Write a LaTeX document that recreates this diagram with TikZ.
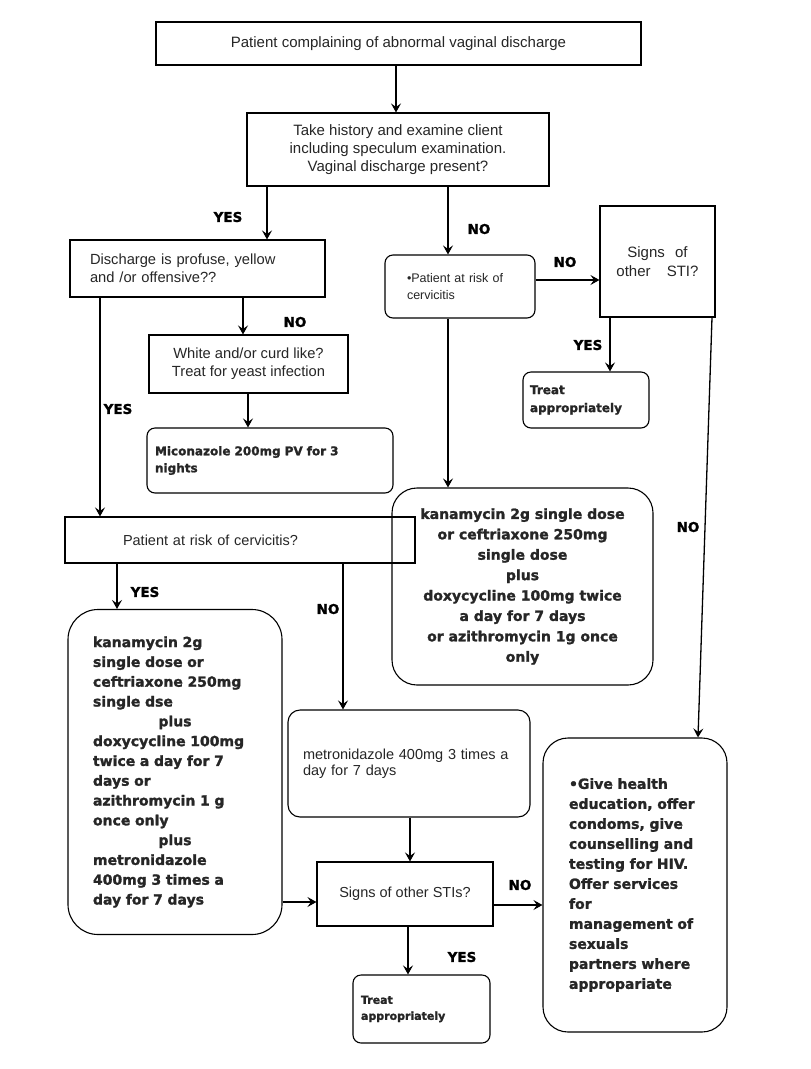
\documentclass[tikz,border=0pt]{standalone}
\usepackage{fontspec}
\setmainfont{Liberation Sans}
\newfontfamily\heavyfam{DejaVu Sans}[BoldFont={DejaVu Sans Bold}, BoldFeatures={FakeBold=1.5}]
\usetikzlibrary{arrows.meta}
\newcommand\nf[2]{\fontsize{#1}{#2}\selectfont}
\newcommand\hv[2]{\heavyfam\bfseries\fontsize{#1}{#2}\selectfont}
\begin{document}
\begin{tikzpicture}[x=1pt,y=-1pt,
  box/.style={draw, line width=1.1pt, inner sep=0pt, text=black!85},
  rbox/.style={box, rounded corners=#1},
  arr/.style={-{Stealth[length=9pt,width=10pt,inset=3.5pt]}, line width=1.3pt},
  lab/.style={font=\hv{13.5}{16}, inner sep=0pt}]
\useasboundingbox (0,0) rectangle (811,1069);
\fill[white] (0,0) rectangle (811,1069);

% column / row coordinates
\coordinate (x396) at (396,0);
\coordinate (x267) at (267,0);
\coordinate (x448) at (448,0);
\coordinate (x243) at (243,0);
\coordinate (x248) at (248,0);
\coordinate (x100) at (100,0);
\coordinate (x117) at (117,0);
\coordinate (x343) at (343,0);
\coordinate (x410) at (410,0);
\coordinate (x408) at (408,0);
\coordinate (x610) at (610,0);
\coordinate (x712) at (712,0);
\coordinate (x698) at (698,0);
\coordinate (y280) at (0,280);
\coordinate (y902) at (0,902);
\coordinate (y905) at (0,905);

% boxes
\node[box, minimum width=485pt, minimum height=43pt, font=\nf{15}{18}] (b1) at (398.5,43.5)
  {Patient complaining of abnormal vaginal discharge};
\node[box, minimum width=302pt, minimum height=73pt, align=center, font=\nf{15}{18}] (b2) at (398,149.5)
  {Take history and examine client\\including speculum examination.\\Vaginal discharge present?};
\node[box, minimum width=255pt, minimum height=57pt, text width=215pt, align=left, font=\nf{14.7}{18}] (b3) at (197.5,268.5)
  {Discharge is profuse, yellow\\and /or offensive??};
\node[box, minimum width=199pt, minimum height=58pt, align=center, font=\nf{14.7}{18}] (b4) at (248.5,364)
  {White and/or curd like?\\Treat for yeast infection};
\node[rbox=8pt, minimum width=246pt, minimum height=65pt, text width=230pt, align=left, font=\hv{12}{17}] (b5) at (270,460.5)
  {Miconazole 200mg PV for 3\\nights};
\node[box, minimum width=350pt, minimum height=46pt, text width=234pt, align=left, font=\nf{14.5}{18}] (b6) at (240,540)
  {Patient at risk of cervicitis?};
\node[rbox=30pt, minimum width=214pt, minimum height=325pt, text width=164pt, align=left, font=\hv{14}{19.8}] (b7) at (175,772)
  {\mbox{kanamycin 2g}\\\mbox{single dose or}\\\mbox{ceftriaxone 250mg}\\\mbox{single dse}\\\makebox[164pt]{plus}\\\mbox{doxycycline 100mg}\\\mbox{twice a day for 7}\\\mbox{days or}\\\mbox{azithromycin 1 g}\\\mbox{once only}\\\makebox[164pt]{plus}\\\mbox{metronidazole}\\\mbox{400mg 3 times a}\\\mbox{day for 7 days}};
\node[rbox=12pt, minimum width=242pt, minimum height=107pt, text width=212pt, align=left, font=\nf{14.5}{16}] (b8) at (409,763.5)
  {\mbox{metronidazole 400mg 3 times a}\\day for 7 days};
\node[box, minimum width=176pt, minimum height=64pt, font=\nf{14.5}{18}] (b9) at (405,894)
  {Signs of other STIs?};
\node[rbox=8pt, minimum width=137pt, minimum height=68pt, text width=121pt, align=left, font=\hv{11}{16}] (b10) at (421.5,1009)
  {Treat\\appropriately};
\node[rbox=25pt, minimum width=184pt, minimum height=294pt, text width=132pt, align=left, font=\hv{14}{20}] (b11) at (635,885)
  {\mbox{\textbullet Give health}\\\mbox{education, offer}\\\mbox{condoms, give}\\\mbox{counselling and}\\\mbox{testing for HIV.}\\\mbox{Offer services}\\for\\\mbox{management of}\\sexuals\\\mbox{partners where}\\appropariate};
\node[rbox=8pt, minimum width=150pt, minimum height=63pt, text width=106pt, align=left, font=\nf{12.5}{17}] (b12) at (460,286.5)
  {\mbox{\textbullet Patient at risk of}\\cervicitis};
\node[box, minimum width=115pt, minimum height=111pt, align=center, font=\nf{15}{19}] (b13) at (657.5,261.5)
  {Signs\hspace{6pt} of\\other\hspace{12pt} STI?};
\node[rbox=8pt, minimum width=126pt, minimum height=56pt, text width=112pt, align=left, font=\hv{12}{18}] (b14) at (586,400)
  {Treat\\appropriately};
\node[rbox=25pt, minimum width=261pt, minimum height=197pt, align=center, font=\hv{14}{20.4}] (b15) at (522.5,586.5)
  {kanamycin 2g single dose\\or ceftriaxone 250mg\\single dose\\plus\\doxycycline 100mg twice\\a day for 7 days\\or azithromycin 1g once\\only};

% connectors
\draw[arr] (b1.south -| x396) -- (b2.north -| x396);
\draw[arr] (b2.south -| x267) -- (b3.north -| x267);
\draw[arr] (b2.south -| x448) -- (b12.north -| x448);
\draw[arr] (b3.south -| x243) -- (b4.north -| x243);
\draw[arr] (b4.south -| x248) -- (b5.north -| x248);
\draw[arr] (b3.south -| x100) -- (b6.north -| x100);
\draw[arr] (b6.south -| x117) -- (b7.north -| x117);
\draw[arr] (b6.south -| x343) -- (b8.north -| x343);
\draw[arr] (b8.south -| x410) -- (b9.north -| x410);
\draw[arr] (b7.east |- y902) -- (b9.west |- y902);
\draw[arr] (b9.south -| x408) -- (b10.north -| x408);
\draw[arr] (b9.east |- y905) -- (b11.west |- y905);
\draw[arr] (b12.east |- y280) -- (b13.west |- y280);
\draw[arr] (b13.south -| x610) -- (b14.north -| x610);
\draw[arr] (b13.south -| x712) -- (b11.north -| x698);
\draw[arr] (b12.south -| x448) -- (b15.north -| x448);

% labels
\node[lab] (l1) at (228,217) {YES};
\node[lab] (l2) at (295,322) {NO};
\node[lab] (l3) at (118,409) {YES};
\node[lab] (l4) at (479,229) {NO};
\node[lab] (l5) at (565,262) {NO};
\node[lab] (l6) at (588,345) {YES};
\node[lab] (l7) at (688,527) {NO};
\node[lab] (l8) at (145,592) {YES};
\node[lab] (l9) at (328,609) {NO};
\node[lab] (l10) at (520,885) {NO};
\node[lab] (l11) at (462,957) {YES};
\end{tikzpicture}
\end{document}
